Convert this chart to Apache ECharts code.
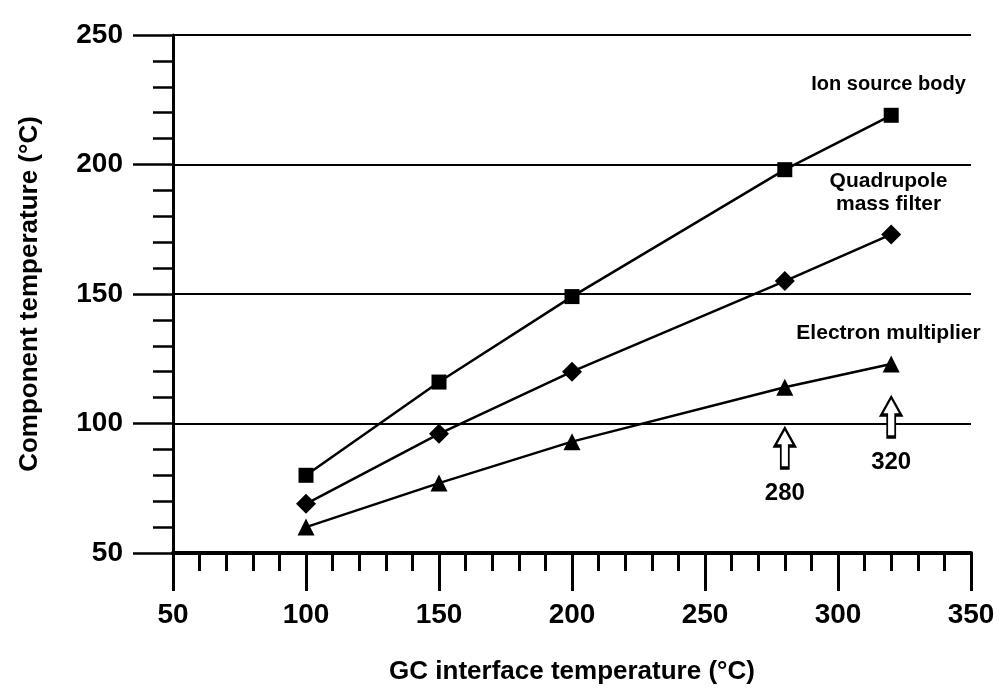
<!DOCTYPE html>
<html>
<head>
<meta charset="utf-8">
<script src="https://cdn.jsdelivr.net/npm/echarts@6/dist/echarts.min.js"></script>
<style>
  html, body { margin: 0; padding: 0; background: #fff; }
  #chart { width: 999px; height: 694px; }
</style>
</head>
<body>
<div id="chart"></div>
<script>
// GC interface temperatures (x) and component temperatures (y)
const interfaceTemps = [100, 150, 200, 280, 320];
const ionSource = [80, 116, 149, 198, 219];
const quadrupole = [69, 96, 120, 155, 173];
const electronMult = [60, 77, 93, 114, 123];

const seriesNames = ['Ion source body', 'Quadrupole\nmass filter', 'Electron multiplier'];
const arrowTemps = [280, 320];

const toPairs = (vals) => interfaceTemps.map((t, i) => [t, vals[i]]);

const font = '"Liberation Sans", Arial, sans-serif';
const upArrow = 'path://M10,0 L20,18 L14,18 L14,40 L6,40 L6,18 L0,18 Z';

const textPoint = (coord, text, size) => ({
  coord: coord,
  symbol: 'circle',
  symbolSize: 1,
  itemStyle: { color: 'rgba(0,0,0,0)' },
  label: {
    show: true, position: 'inside', formatter: text,
    color: '#000', fontFamily: font, fontWeight: 'bold', fontSize: size, lineHeight: size + 2
  }
});

const arrowPoint = (coord) => ({
  coord: coord,
  symbol: upArrow,
  symbolSize: [20, 40],
  itemStyle: { color: '#fff', borderColor: '#000', borderWidth: 2.5 },
  label: { show: false }
});

const chart = echarts.init(document.getElementById('chart'), null, { renderer: 'canvas' });

const lineSeries = (name, vals, symbol, size) => ({
  name: name,
  type: 'line',
  data: toPairs(vals),
  symbol: symbol,
  symbolSize: size,
  showSymbol: true,
  lineStyle: { color: '#000', width: 2.5 },
  itemStyle: { color: '#000' },
  z: 5
});

const option = {
  backgroundColor: '#fff',
  animation: false,
  grid: { left: 173, right: 28, top: 35, bottom: 141, containLabel: false },
  xAxis: {
    type: 'value',
    min: 50, max: 350, interval: 50,
    name: 'GC interface temperature (°C)',
    nameLocation: 'middle',
    nameGap: 106,
    nameTextStyle: { color: '#000', fontFamily: font, fontSize: 26, fontWeight: 'bold' },
    axisLine: { show: true, lineStyle: { color: '#000', width: 4 } },
    axisTick: { show: true, length: 38, lineStyle: { color: '#000', width: 3 } },
    minorTick: { show: true, splitNumber: 5, length: 18, lineStyle: { color: '#000', width: 3 } },
    axisLabel: { color: '#000', fontFamily: font, fontSize: 28, fontWeight: 'bold', margin: 48 },
    splitLine: { show: false }
  },
  yAxis: {
    type: 'value',
    min: 50, max: 250, interval: 50,
    name: 'Component temperature (°C)',
    nameLocation: 'middle',
    nameGap: 130,
    nameTextStyle: { color: '#000', fontFamily: font, fontSize: 26, fontWeight: 'bold' },
    axisLine: { show: true, lineStyle: { color: '#000', width: 3 } },
    axisTick: { show: true, length: 40, lineStyle: { color: '#000', width: 2.5 } },
    minorTick: { show: true, splitNumber: 5, length: 20, lineStyle: { color: '#000', width: 2.5 } },
    axisLabel: { color: '#000', fontFamily: font, fontSize: 28, fontWeight: 'bold', margin: 50 },
    splitLine: { show: true, lineStyle: { color: '#000', width: 2 } }
  },
  series: [
    lineSeries(seriesNames[0], ionSource, 'rect', 15),
    lineSeries(seriesNames[1], quadrupole, 'diamond', 20),
    Object.assign(lineSeries(seriesNames[2], electronMult, 'triangle', 17), {
      markPoint: {
        silent: true,
        data: [
          textPoint([319, 231], seriesNames[0], 20),
          textPoint([319, 189], seriesNames[1], 21),
          textPoint([319, 135], seriesNames[2], 21),
          arrowPoint([arrowTemps[0], 90.5]),
          arrowPoint([arrowTemps[1], 102.5]),
          textPoint([arrowTemps[0], 73], String(arrowTemps[0]), 24),
          textPoint([arrowTemps[1], 85], String(arrowTemps[1]), 24)
        ]
      }
    })
  ]
};

chart.setOption(option);
</script>
</body>
</html>
